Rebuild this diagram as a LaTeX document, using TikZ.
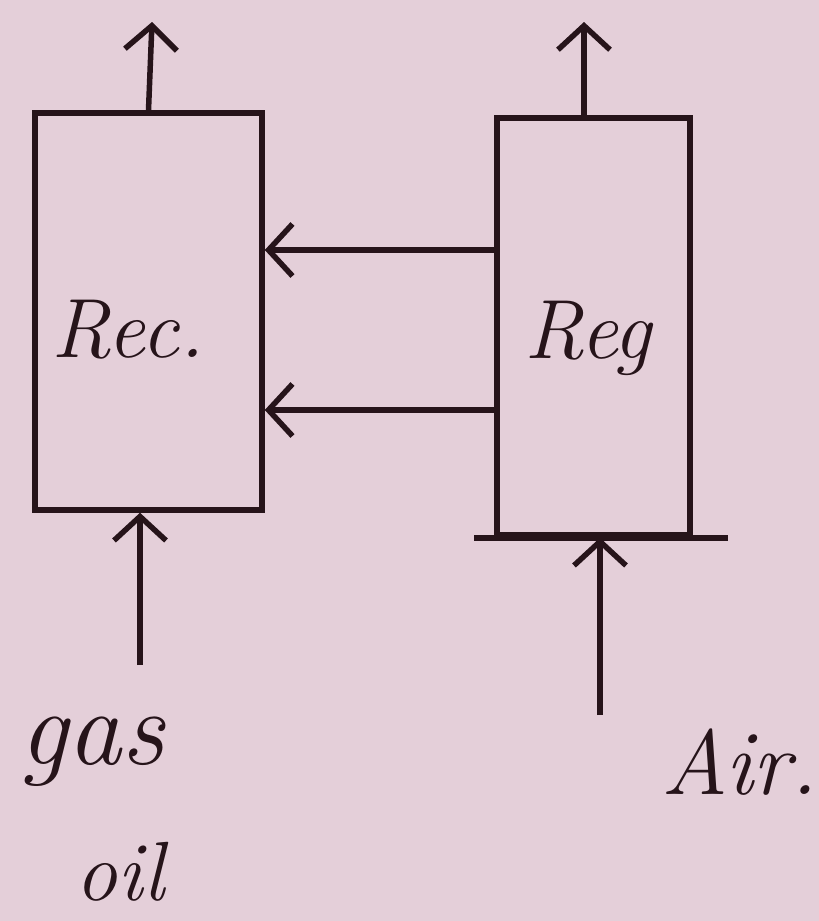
\documentclass[tikz,border=0pt]{standalone}
\usepackage{tikz}
\usetikzlibrary{arrows.meta,calc,positioning}

\definecolor{paper}{RGB}{228,207,217}
\definecolor{ink}{RGB}{38,20,26}

\tikzset{
  unit/.style={draw=ink,line width=5.5pt,inner sep=0pt},
  flow/.style={draw=ink,line width=5.5pt,-{Straight Barb[length=24pt,width=52pt,line width=5.5pt]}},
  tag/.style={text=ink,font=\fontsize{84}{90}\selectfont\itshape}
}

\begin{document}
\begin{tikzpicture}[x=1pt,y=-1pt]
  % page
  \fill[paper] (0,0) rectangle (819,921);
  \useasboundingbox (0,0) rectangle (819,921);
  % reactor and regenerator
  \node[unit,minimum width=227pt,minimum height=397pt] (rec) at (148.5,311.5) {};
  \node[unit,minimum width=193pt,minimum height=417pt] (reg) at (593.5,326.5) {};
  \draw[ink,line width=5.5pt] ($(reg.south west)+(-20,0)$) -- ($(reg.south east)+(35,0)$);
  \node[tag] (rectext) at (128,330) {Rec.};
  \node[tag] (regtext) at (588,338) {Reg};
  % outlets
  \coordinate (recout) at (152,22);
  \coordinate (regout) at (584,22);
  \draw[flow] (rec.north) -- (recout);
  \draw[flow] (reg.north -| regout) -- (regout);
  % catalyst transfer
  \coordinate (hi) at (0,250);
  \coordinate (lo) at (0,410);
  \draw[flow] (reg.west |- hi) -- (rec.east |- hi);
  \draw[flow] (reg.west |- lo) -- (rec.east |- lo);
  % feeds
  \coordinate (gasin) at (140,665);
  \coordinate (airin) at (600,715);
  \draw[flow] (gasin) -- (gasin |- rec.south);
  \draw[flow] (airin) -- (airin |- reg.south);
  \node[tag,font=\fontsize{108}{110}\selectfont\itshape] (gas) at (92,752) {gas};
  \node[tag] (oil) at (120,872) {oil};
  \node[tag,font=\fontsize{92}{100}\selectfont\itshape] (air) at (740,762) {Air.};
\end{tikzpicture}
\end{document}
